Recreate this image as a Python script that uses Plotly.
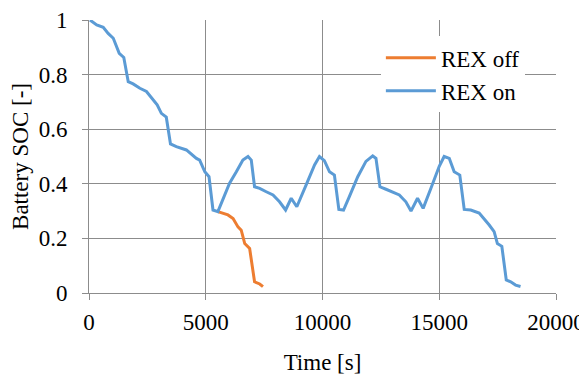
import plotly.graph_objects as go

on_t = [40, 330, 610, 820, 1040, 1150, 1295, 1490, 1680, 1890, 2180, 2460, 2680, 2920, 3100, 3310,
        3490, 3740, 4170, 4600, 4740, 4960, 5140, 5310, 5520, 5740, 6020, 6310, 6590, 6810, 6950,
        7090, 7310, 7590, 7880, 8160, 8420, 8660, 8900, 9300, 9660, 9870, 10080, 10300, 10510,
        10700, 10900, 11150, 11510, 11860, 12150, 12290, 12460, 12720, 13000, 13290, 13570, 13790,
        14070, 14310, 14640, 15000, 15210, 15430, 15640, 15880, 16070, 16350, 16710, 16920, 17140,
        17350, 17490, 17680, 17870, 18060, 18270, 18480]
on_soc = [1.0, 0.982, 0.973, 0.951, 0.933, 0.908, 0.878, 0.863, 0.774, 0.766, 0.75, 0.738, 0.713,
          0.689, 0.658, 0.644, 0.546, 0.536, 0.524, 0.493, 0.487, 0.444, 0.426, 0.304, 0.298, 0.341,
          0.402, 0.444, 0.487, 0.5, 0.487, 0.389, 0.383, 0.371, 0.359, 0.334, 0.304, 0.347, 0.316,
          0.396, 0.469, 0.5, 0.485, 0.444, 0.432, 0.306, 0.304, 0.353, 0.426, 0.482, 0.502, 0.493,
          0.389, 0.38, 0.371, 0.359, 0.334, 0.3, 0.347, 0.31, 0.383, 0.464, 0.5, 0.493, 0.444, 0.432,
          0.306, 0.304, 0.293, 0.273, 0.249, 0.225, 0.181, 0.171, 0.048, 0.041, 0.029, 0.024]

off_t = [5520, 5600, 5950, 6170, 6380, 6520, 6670, 6880, 7090, 7310, 7450]
off_soc = [0.298, 0.296, 0.286, 0.273, 0.242, 0.23, 0.181, 0.163, 0.041, 0.033, 0.023]

x_ticks = [0, 5000, 10000, 15000, 20000]
x_labels = ["0", "5000", "10000", "15000", "20000"]
y_ticks = [0, 0.2, 0.4, 0.6, 0.8, 1]
y_labels = ["0", "0.2", "0.4", "0.6", "0.8", "1"]

FAM = "Liberation Serif"
FS = 23

fig = go.Figure()
fig.add_trace(go.Scatter(x=off_t, y=off_soc, mode="lines", name="REX off",
                         line=dict(color="#ED7D31", width=3), legendgroup="a"))
fig.add_trace(go.Scatter(x=on_t, y=on_soc, mode="lines", name="REX on",
                         line=dict(color="#5B9BD5", width=3), legendgroup="b"))

fig.update_layout(
    width=579, height=370,
    margin=dict(l=81, r=31, t=12, b=85),
    paper_bgcolor="white", plot_bgcolor="white",
    font=dict(family=FAM, size=FS, color="black"),
    showlegend=True,
    legend=dict(x=0.625, y=0.94, xanchor="left", yanchor="top", bgcolor="white",
                font=dict(family=FAM, size=FS), itemwidth=50,
                tracegroupgap=16, traceorder="normal"),
    xaxis=dict(range=[0, 20000], tickvals=x_ticks, ticktext=x_labels, showgrid=True,
               gridcolor="#8c8c8c", gridwidth=1, zeroline=False, showline=True,
               linecolor="#8c8c8c", ticks="outside", ticklen=6, tickcolor="#8c8c8c",
               automargin=False, ticklabelstandoff=2,
               tickfont=dict(family=FAM, size=FS),
               title=dict(text="Time [s]", standoff=20, font=dict(family=FAM, size=FS))),
    yaxis=dict(range=[0, 1], tickvals=y_ticks, ticktext=y_labels, showgrid=True,
               gridcolor="#8c8c8c", gridwidth=1, zeroline=False, showline=True,
               linecolor="#8c8c8c", ticks="outside", ticklen=6, tickcolor="#8c8c8c",
               automargin=False, ticklabelstandoff=10,
               tickfont=dict(family=FAM, size=FS),
               title=dict(text="Battery SOC [-]", standoff=6, font=dict(family=FAM, size=FS))),
)
fig.write_html("out.html")
